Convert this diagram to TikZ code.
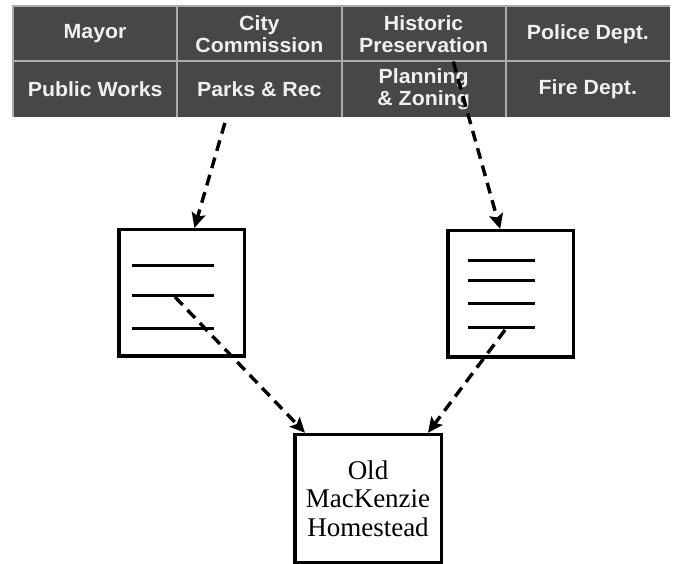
\documentclass[tikz,border=0pt]{standalone}
\usepackage{fontspec}
\setmainfont{Liberation Serif}
\newfontfamily\cellfont[FakeStretch=1.04]{Liberation Sans}
\usetikzlibrary{arrows.meta,calc}
\definecolor{cellgray}{HTML}{474747}
\definecolor{bevelgray}{HTML}{ABABAB}
\definecolor{celltext}{HTML}{F0F0F0}

\begin{document}
\begin{tikzpicture}[x=1pt, y=-1pt, >={Stealth[length=15pt, width=14pt, inset=3pt]},
    cell/.style={fill=cellgray, minimum width=164.25pt, minimum height=55.5pt,
        inner sep=0pt, outer sep=0pt, text=celltext, align=center,
        font=\cellfont\bfseries\fontsize{20.5}{22}\selectfont},
    bevel/.style={bevelgray, line width=2pt},
    docbox/.style={draw, line width=3.5pt, inner sep=0pt},
    docline/.style={line width=3pt},
    link/.style={->, line width=3.4pt, dash pattern=on 11pt off 7pt}]
    \useasboundingbox (0,0) rectangle (673,564);

    % 部门表格
    \foreach \name/\i/\j/\txt in {mayor/0/0/Mayor, commission/1/0/{City\\Commission},
        historic/2/0/{Historic\\Preservation}, police/3/0/{Police Dept.},
        works/0/1/{Public Works}, parks/1/1/{Parks \& Rec},
        planning/2/1/{Planning\\\& Zoning}, fire/3/1/{Fire Dept.}}
    {
        \node[cell] (\name) at ({13+164.25*(\i+0.5)}, {6+55.5*(\j+0.5)}) {\txt};
        \draw[bevel] (\name.south west) -- (\name.north west) -- (\name.north east);
    }

    % 文件
    \node[docbox, minimum width=125.5pt, minimum height=126.5pt] (ldoc) at (181.5, 293) {};
    \node[docbox, minimum width=125.5pt, minimum height=126.5pt] (rdoc) at (510.5, 294) {};
    \foreach \y in {266, 296, 329}
        \draw[docline] (132, \y) -- (214, \y);
    \foreach \y in {261, 281, 304, 328}
        \draw[docline] (468, \y) -- (535, \y);

    % 宅邸
    \node[docbox, minimum width=146.5pt, minimum height=128pt, align=center,
        font=\fontsize{27}{28.5}\selectfont] (homestead) at (368, 498.5)
        {Old\\MacKenzie\\Homestead};

    % 箭头
    \coordinate (parkstail) at ($(parks.south west)!0.29!(parks.south east)+(0,6)$);
    \coordinate (plantail) at ($(planning.north west)!0.68!(planning.north east)$);
    \coordinate (ltail) at (175, 297);
    \coordinate (rtail) at (505, 330);
    \draw[link] (parkstail) -- ($(ldoc.north west)!0.6!(ldoc.north east)$);
    \draw[link] (plantail) -- ($(rdoc.north west)!0.42!(rdoc.north east)$);
    \draw[link] (ltail) -- ($(homestead.north west)!0.08!(homestead.north east)$);
    \draw[link] (rtail) -- ($(homestead.north west)!0.9!(homestead.north east)$);
\end{tikzpicture}
\end{document}
